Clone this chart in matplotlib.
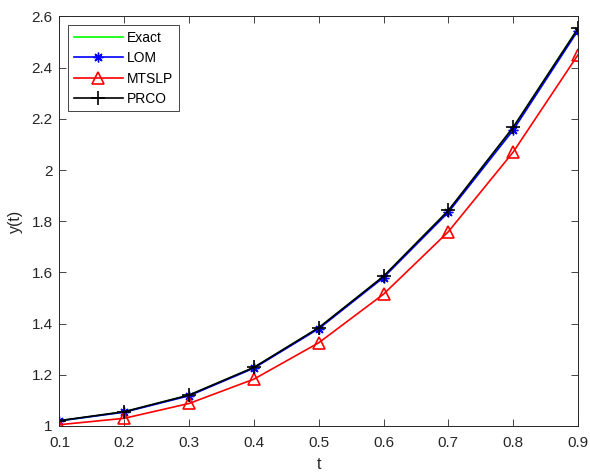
import numpy as np
import matplotlib.pyplot as plt

plt.rcParams['font.family'] = ['Liberation Sans', 'DejaVu Sans']

# --- dati ---
t = [0.1, 0.2, 0.3, 0.4, 0.5, 0.6, 0.7, 0.8, 0.9]
y_exact = [1.020, 1.055, 1.120, 1.228, 1.383, 1.584, 1.840, 2.165, 2.553]
y_lom = [1.020, 1.054, 1.118, 1.226, 1.380, 1.580, 1.835, 2.156, 2.545]
y_mtslp = [1.005, 1.030, 1.088, 1.183, 1.325, 1.515, 1.759, 2.070, 2.450]
y_prco = [1.021, 1.056, 1.121, 1.229, 1.384, 1.585, 1.842, 2.167, 2.553]

xticks = [0.1, 0.2, 0.3, 0.4, 0.5, 0.6, 0.7, 0.8, 0.9]
yticks = [1, 1.2, 1.4, 1.6, 1.8, 2, 2.2, 2.4, 2.6]
ytick_labels = ['1', '1.2', '1.4', '1.6', '1.8', '2', '2.2', '2.4', '2.6']

fig = plt.figure(figsize=(5.9, 4.74), dpi=100)
ax = fig.add_axes([0.1008, 0.1013, 0.8788, 0.864])

ax.plot(t, y_exact, color='#00ff00', lw=1.2, label='Exact')
ax.plot(t, y_lom, color='blue', lw=1.2, marker=(8, 2, 0), ms=7, mew=1.0,
        label='LOM')
ax.plot(t, y_mtslp, color='red', lw=1.2, marker='^', ms=8, mfc='none',
        mew=1.2, label='MTSLP')
ax.plot(t, y_prco, color='black', lw=1.2, marker='+', ms=10, mew=1.2,
        label='PRCO')

ax.set_xlim(0.1, 0.9)
ax.set_ylim(1, 2.6)
ax.set_xticks(xticks)
ax.set_xticklabels([f'{v:.1f}' for v in xticks])
ax.set_yticks(yticks)
ax.set_yticklabels(ytick_labels)
ax.tick_params(direction='in', top=True, right=True, length=5, width=0.6,
               labelsize=11, colors='#262626')
ax.tick_params(axis='x', pad=7)
ax.tick_params(axis='y', pad=5)
for s in ax.spines.values():
    s.set_linewidth(0.7)
    s.set_color('#262626')

ax.set_xlabel('t', fontsize=11.5, color='#262626', labelpad=5)
ax.set_ylabel('y(t)', fontsize=11.5, color='#262626', labelpad=6)

leg = ax.legend(loc='upper left', fontsize=10, frameon=True, fancybox=False,
                edgecolor='#262626', framealpha=1, borderaxespad=0.65,
                handlelength=3.5, labelspacing=0.45, borderpad=0.4,
                handletextpad=0.3)
leg.get_frame().set_linewidth(0.6)

fig.savefig('out.png', dpi=100)
